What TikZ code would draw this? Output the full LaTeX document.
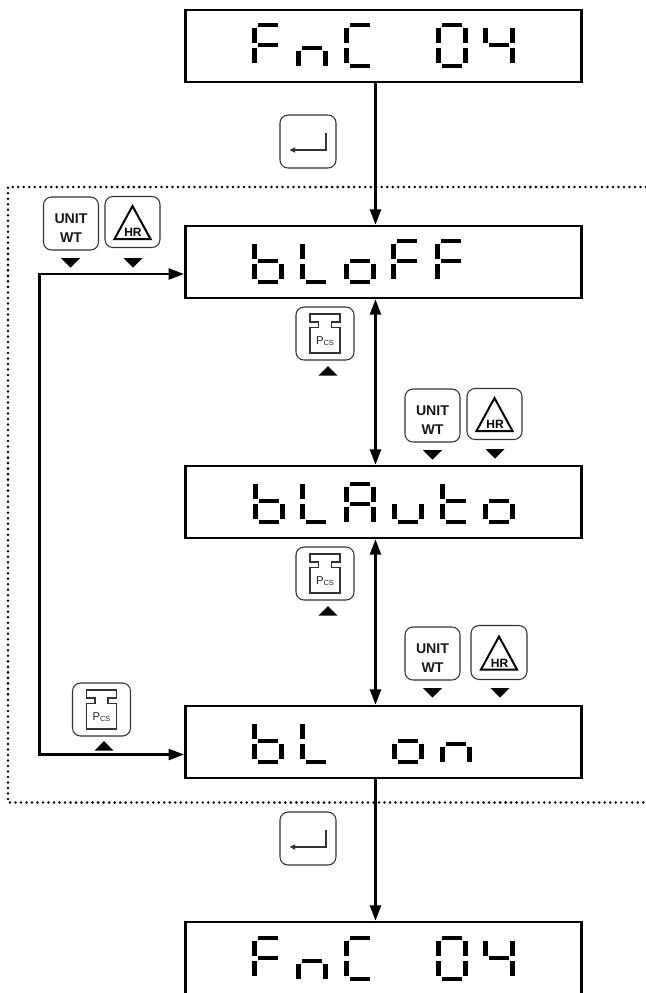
\documentclass[tikz,border=0pt]{standalone}
\usepackage{fontspec}
\setmainfont{Liberation Sans}
\usetikzlibrary{arrows.meta}
% seven-segment bars: #1 = left x, #2 = y of the top bar (px)
\newcommand{\sga}[2]{\fill[segbar] (#1+6,#2) rectangle (#1+26,#2+4);}
\newcommand{\sgb}[2]{\fill[segbar] (#1+27,#2+5) rectangle (#1+32,#2+20);}
\newcommand{\sgc}[2]{\fill[segbar] (#1+27,#2+25) rectangle (#1+32,#2+39.5);}
\newcommand{\sgd}[2]{\fill[segbar] (#1+6,#2+41) rectangle (#1+26,#2+45);}
\newcommand{\sge}[2]{\fill[segbar] (#1,#2+25) rectangle (#1+5,#2+39.5);}
\newcommand{\sgf}[2]{\fill[segbar] (#1,#2+5) rectangle (#1+5,#2+20);}
\newcommand{\sgg}[2]{\fill[segbar] (#1+6,#2+20) rectangle (#1+26,#2+24);}
\newcommand{\lcd}[3]{\foreach \s in {#3}{\csname sg\s\endcsname{#1}{#2}}}
% keys
\newcommand{\unitkey}[5]{\node[keybox,minimum width=#4*.75pt,minimum height=#5*.75pt] (#1) at (#2,#3) {};
  \begin{scope}[shift={(#1.center)}]
    \node[inner sep=0pt,font=\fontsize{10.6}{14.2}\selectfont\bfseries,align=center,text=black!90] (#1t) at (0,4.5) {UNIT\\WT};
  \end{scope}}
\newcommand{\hrkey}[5]{\node[keybox,minimum width=#4*.75pt,minimum height=#5*.75pt] (#1) at (#2,#3) {};
  \begin{scope}[shift={(#1.center)}]
    \draw[line width=1.5pt,line join=miter] (0,-16) -- (18,17) -- (-18,17) -- cycle;
    \node[inner sep=0pt,font=\fontsize{9}{9}\selectfont\bfseries] (#1t) at (0.5,10.5) {HR};
  \end{scope}}
\newcommand{\pcskey}[3]{\node[keybox,minimum width=58*.75pt,minimum height=53*.75pt] (#1) at (#2,#3) {};
  \begin{scope}[shift={(#1.center)}]
    \draw[keyline] (-15,-19.5) -- (15,-19.5) -- (15,-11.5) -- (6.5,-11.5) -- (6.5,-6) -- (15,-6)
      -- (15,19.5) -- (-15,19.5) -- (-15,-6) -- (-6.5,-6) -- (-6.5,-11.5) -- (-15,-11.5) -- cycle;
    \node[inner sep=0pt,text=black!85,font=\fontsize{8.5}{8.5}\selectfont] (#1t) at (0,8)
      {P\raisebox{-.6pt}{\fontsize{5.6}{5.6}\selectfont CS}};
  \end{scope}}
\newcommand{\retkey}[3]{\node[keybox,minimum width=56*.75pt,minimum height=53*.75pt] (#1) at (#2,#3) {};
  \begin{scope}[shift={(#1.center)}]
    \coordinate (#1a) at (18,-9);
    \coordinate (#1b) at (18,8.5);
    \coordinate (#1c) at (-18.5,8.5);
    \draw[line width=1pt,black!80,-{Triangle[length=4.2pt,width=3.8pt]}] (#1a) -- (#1b) -- (#1c);
  \end{scope}}
\newcommand{\mdown}[2]{\fill (#1-9.5,#2) -- (#1+9.5,#2) -- (#1,#2+9.5) -- cycle;}
\newcommand{\mup}[2]{\fill (#1-9.5,#2+9.5) -- (#1+9.5,#2+9.5) -- (#1,#2) -- cycle;}
\begin{document}
\begin{tikzpicture}[x=.75pt,y=-.75pt,
  segbar/.style={black},
  display/.style={draw=black,line width=1.9pt,fill=none,inner sep=0pt,
    minimum width=399*.75pt-1.9pt,minimum height=72*.75pt},
  keybox/.style={draw=black!80,line width=.8pt,rounded corners=6pt,inner sep=0pt},
  keyline/.style={draw=black!80,line width=.8pt},
  conn/.style={line width=1.9pt,black},
  tip/.style={-{Triangle[length=11.5pt,width=8.2pt]}},
  tips/.style={{Triangle[length=11.5pt,width=8.2pt]}-{Triangle[length=11.5pt,width=8.2pt]}},
  frame/.style={line width=2.1pt,line cap=round,dash pattern=on 0pt off 4.13pt}]
\useasboundingbox (0,0) rectangle (646,993);
\clip (0,0) rectangle (646,993);
\fill[white] (0,0) rectangle (646,993);
% dotted frame
\coordinate (fa) at (646,187);
\coordinate (fb) at (8,187);
\coordinate (fc) at (8,802.5);
\coordinate (fd) at (646,802.5);
\draw[frame] (fa) -- (fb) -- (fc) -- (fd);
% displays
\node[display] (fnc)   at (383.5,46)  {};
\node[display] (bloff) at (383.5,262) {};
\node[display] (blaut) at (383.5,502) {};
\node[display] (blon)  at (383.5,742) {};
\node[display,minimum height=150*.75pt] (fncb)  at (383.5,997) {};
% connectors
\coordinate (col) at (375.5,0);
\draw[conn,tip]  (col |- fnc.south)   -- (col |- bloff.north);
\draw[conn,tips] (col |- bloff.south) -- (col |- blaut.north);
\draw[conn,tips] (col |- blaut.south) -- (col |- blon.north);
\draw[conn,tip]  (col |- blon.south)  -- (col |- fncb.north);
\path (bloff.west) ++(0,12) coordinate (looptop);
\path (blon.west) ++(0,12.5) coordinate (loopbot);
\coordinate (loopx) at (39.5,0);
\draw[conn,tips,line join=miter] (looptop) -- (loopx |- looptop) -- (loopx |- loopbot) -- (loopbot);
% seven-segment texts
\lcd{252}{23}{a,f,g,e} \lcd{296}{26}{g,e,c} \lcd{344}{23}{a,f,e,d}
\lcd{436}{23}{a,b,c,d,e,f} \lcd{483}{23}{f,b,g,c}
\lcd{252}{239}{f,e,g,c,d} \lcd{300}{239}{f,e,d} \lcd{344}{239}{g,c,d,e}
\lcd{391}{239}{a,f,g,e} \lcd{435}{239}{a,f,g,e}
\lcd{253}{479}{f,e,g,c,d} \lcd{300}{479}{f,e,d} \lcd{344}{482}{a,b,c,e,f,g}
\lcd{392}{479}{e,c,d} \lcd{440}{479}{f,g,e,d} \lcd{483}{479}{g,e,c,d}
\lcd{252}{719}{f,e,g,c,d} \lcd{300}{719}{f,e,d} \lcd{392}{719}{g,c,d,e} \lcd{440}{722}{g,e,c}
\lcd{252}{936}{a,f,g,e} \lcd{296}{939}{g,e,c} \lcd{344}{936}{a,f,e,d}
\lcd{436}{936}{a,b,c,d,e,f} \lcd{483}{936}{f,b,g,c}
% keys
\retkey{ret1}{308}{141.5}
\retkey{ret2}{308}{838.5}
\unitkey{u1}{71}{223.5}{55}{53} \hrkey{h1}{132.5}{222}{55}{51}
\mdown{70.5}{258} \mdown{133}{258}
\unitkey{u2}{432.5}{415.5}{55}{53} \hrkey{h2}{494.5}{414}{55}{51}
\mdown{432.5}{450} \mdown{495}{449}
\unitkey{u3}{432.5}{653.5}{55}{53} \hrkey{h3}{499}{652.5}{56}{54}
\mdown{432.5}{688} \mdown{500}{688}
\pcskey{p1}{325}{333.5} \mup{328}{366}
\pcskey{p2}{325}{573.5} \mup{328}{606}
\pcskey{p3}{101.5}{709.5} \mup{104}{741}
\end{tikzpicture}
\end{document}
